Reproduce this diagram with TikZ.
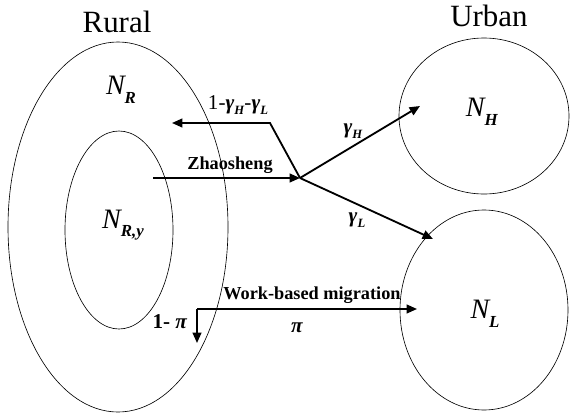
\documentclass[tikz,border=0pt]{standalone}
\usepackage{fontspec}
\setmainfont{Liberation Serif}
\usepackage{tikz}
\usetikzlibrary{arrows.meta,shapes.geometric,positioning}
\newcommand{\gsub}[1]{\textbf{\textit{γ}\raisebox{-0.22em}{\fontsize{9}{9}\selectfont\textit{#1}}}}
\newcommand{\nsub}[1]{\textit{N}\kern-0.05em\raisebox{-0.3em}{\fontsize{12}{12}\selectfont\textbf{\textit{#1}}}}
\tikzset{
  region/.style ={draw, ellipse, line width=0.45pt, inner sep=0pt},
  sidelbl/.style={inner sep=0pt, font=\fontsize{22}{22}\selectfont},
  flowlbl/.style={inner sep=0pt, font=\fontsize{13}{13}\selectfont\bfseries},
  ratelbl/.style={inner sep=0pt, font=\fontsize{15}{15}\selectfont},
  poplbl/.style ={inner sep=0pt, font=\fontsize{20}{20}\selectfont},
  arr/.style    ={-{Triangle[length=2.6mm,width=2.2mm]}, line width=1.3pt},
}
\begin{document}
\begin{tikzpicture}[x=0.25mm,y=-0.25mm]
  \useasboundingbox (0,0) rectangle (572,416);
  %% regions
  \node[region, minimum width=55mm, minimum height=92.5mm] (rural) at (118,227) {};
  \node[region, minimum width=27mm, minimum height=49.5mm] (ry)    at (119,230) {};
  \node[region, minimum width=42.5mm, minimum height=39mm] (nh)    at (484,116) {};
  \node[region, minimum width=42mm, minimum height=50mm]   (nl)    at (484,310) {};
  \node[sidelbl] (rurallbl) at (117,22) {Rural};
  \node[sidelbl] (urbanlbl) at (489,16) {Urban};
  \node[poplbl] (nr)  at (121,90)  {\nsub{R}};
  \node[poplbl] (nry) at (123,225) {\nsub{R,y}};
  \node[poplbl] (nhl) at (482,112) {\nsub{H}};
  \node[poplbl] (nll) at (485,314) {\nsub{L}};
  %% flows
  \coordinate (zs) at (153,178);
  \coordinate (jn) at (300,178);
  \coordinate (bk) at (270,123);
  \coordinate (back) at (172,123);
  \coordinate (toh) at (420,106);
  \coordinate (tol) at (433,239);
  \coordinate (wk) at (197,309);
  \coordinate (wkend) at (417,309);
  \coordinate (stay) at (197,343);
  \draw[arr] (zs) -- (jn);
  \draw[arr] (jn) -- (bk) -- (back);
  \draw[arr] (jn) -- (toh);
  \draw[arr] (jn) -- (tol);
  \draw[arr] (wk) -- (wkend);
  \draw[arr] (wk) -- (stay);
  %% labels
  \node[flowlbl] (zslbl) at (230,165) {Zhaosheng};
  \node[flowlbl] (wklbl) at (312,295) {Work-based migration};
  \node[ratelbl] (retlbl) at (238,105) {1-\gsub{H}-\gsub{L}};
  \node[ratelbl] (hlbl) at (353,131) {\gsub{H}};
  \node[ratelbl] (llbl) at (357,220) {\gsub{L}};
  \node[ratelbl] (pilbl) at (297,328) {\textbf{\textit{π}}};
  \node[ratelbl] (stlbl) at (170,322) {\textbf{1- \textit{π}}};
\end{tikzpicture}
\end{document}
